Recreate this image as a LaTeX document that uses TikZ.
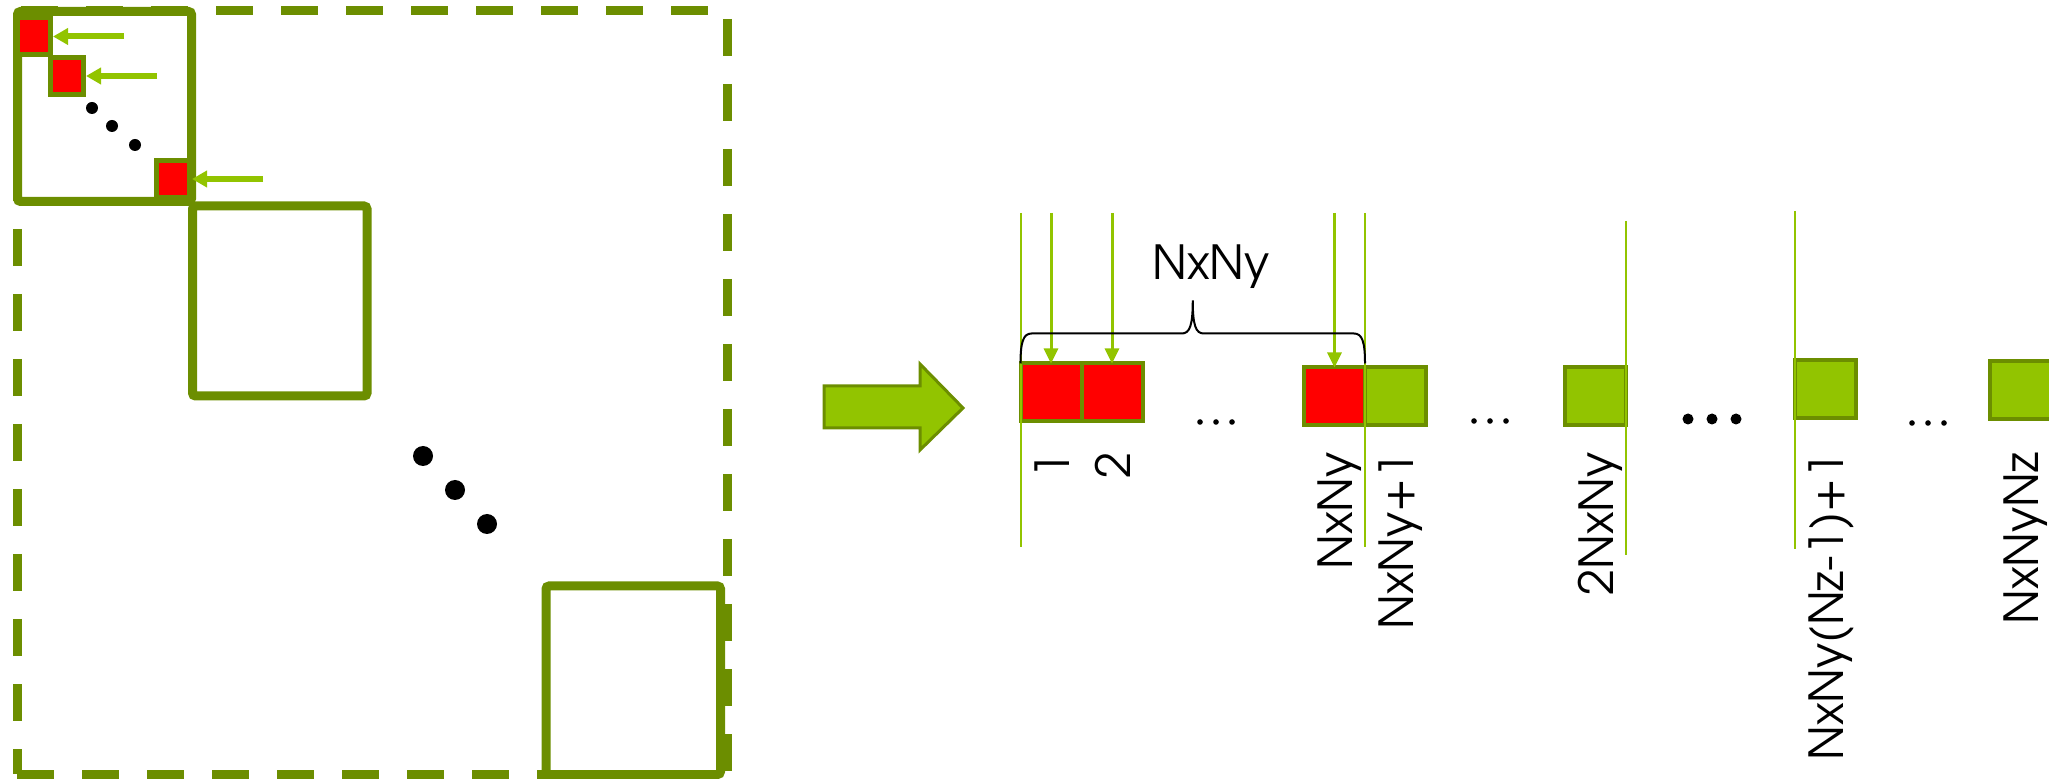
\documentclass[tikz,border=0pt]{standalone}
\usepackage{fontspec}
\setmainfont{TeX Gyre Adventor}
\usetikzlibrary{arrows.meta, positioning, calc}
\definecolor{olivegreen}{RGB}{108,142,0}
\definecolor{limegreen}{RGB}{146,196,0}
\definecolor{cellred}{RGB}{255,0,0}

\begin{document}
\begin{tikzpicture}[x=0.5pt, y=-0.5pt,
    block/.style={draw=olivegreen, line width=4.5pt, rounded corners=1.5pt},
    outline/.style={draw=olivegreen, line width=4.5pt, dash pattern=on 18.5pt off 14pt},
    minicell/.style={draw=olivegreen, fill=cellred, line width=2.5pt,
      minimum width=16.5pt, minimum height=18.5pt, inner sep=0pt},
    hpointer/.style={draw=limegreen, line width=3pt, -{Triangle[length=7.5pt, width=8pt]}},
    cell/.style={draw=olivegreen, line width=2pt, minimum width=30.5pt,
      minimum height=29pt, inner sep=0pt, outer sep=0pt},
    redcell/.style={cell, fill=cellred},
    greencell/.style={cell, fill=limegreen},
    vpointer/.style={draw=limegreen, line width=1.5pt, -{Triangle[length=7.5pt, width=7pt]}},
    boundary/.style={draw=limegreen, line width=1pt},
    brace/.style={draw=black, line width=1pt},
    idx/.style={rotate=90, anchor=base east, inner sep=0pt, font=\fontsize{23.5}{25}\selectfont},
  ]
  \useasboundingbox (0,0) rectangle (2049,779);

  % outline of the whole matrix
  \draw[outline, dash phase=30.5pt] (17,10.5) -- (727.5,10.5);
  \draw[outline, dash phase=28.25pt] (727.5,10.5) -- (727.5,774);
  \draw[outline, dash phase=20.75pt] (17,10.5) -- (17,774);
  \draw[outline] (17,774) -- (727.5,774);

  % diagonal blocks
  \draw[block] (17.5,11.5) rectangle (191.5,201.5);
  \draw[block] (192.5,206) rectangle (367,396);
  \draw[block] (546,586) rectangle (720.5,774.5);

  % entries of the first block
  \node[minicell] (m1) at (34,36.5) {};
  \node[minicell] (m2) at (67,76) {};
  \node[minicell] (m3) at (173,179) {};
  \coordinate (p1) at (124,36.5);
  \coordinate (p2) at (157,76);
  \coordinate (p3) at (263,179);
  \foreach \i in {1,2,3}
    \draw[hpointer] (p\i) -- (m\i);
  \foreach \x/\y in {92/108, 112/126, 135/145}
    \fill (\x,\y) circle[radius=6];
  \foreach \x/\y in {423/456, 455/490, 487/524}
    \fill (\x,\y) circle[radius=10];

  % big arrow
  \draw[draw=olivegreen, fill=limegreen, line width=1.5pt]
    (824,386) -- (920,386) -- (920,364) -- (963,408) -- (920,450) -- (920,428) -- (824,428) -- cycle;

  % vector of cells
  \node[redcell] (r1) at (1051,392.5) {};
  \node[redcell, right=0pt of r1] (r2) {};
  \node[redcell] (rn) at (1334.5,396.5) {};
  \node[greencell, right=0pt of rn] (g1) {};
  \node[greencell] (g2) at (1595.5,396) {};
  \node[greencell] (g3) at (1825.5,389.5) {};
  \node[greencell] (g4) at (2020.5,390.5) {};

  \foreach \x in {1200,1216,1232} \fill (\x,422) circle[radius=2.8];
  \foreach \x in {1474,1490,1506} \fill (\x,421) circle[radius=2.8];
  \foreach \x in {1688,1712,1736} \fill (\x,419) circle[radius=5.5];
  \foreach \x in {1912,1928,1944} \fill (\x,423) circle[radius=2.8];

  % block boundaries
  \coordinate (ltop) at (0,213);
  \coordinate (lbot) at (0,547);
  \coordinate (mtop) at (0,221);
  \coordinate (mbot) at (0,555);
  \coordinate (ntop) at (0,211);
  \coordinate (nbot) at (0,549);
  \draw[boundary] (r1.west |- ltop) -- (r1.west |- lbot);
  \draw[boundary] (rn.east |- ltop) -- (rn.east |- lbot);
  \draw[boundary] (g2.east |- mtop) -- (g2.east |- mbot);
  \draw[boundary] (g3.west |- ntop) -- (g3.west |- nbot);

  % pointers into the first NxNy cells
  \foreach \c in {r1,r2,rn}{
    \coordinate (s-\c) at (\c.north |- ltop);
    \draw[vpointer] (s-\c) -- (\c);
  }

  % brace over the first plane
  \coordinate (bl) at (r1.north west);
  \coordinate (br) at (rn.north east |- bl);
  \coordinate (bm) at ($(bl)!0.5!(br)$);
  \draw[brace] (bl) .. controls ($(bl)+(0,-22)$) and ($(bl)+(3,-30)$) .. ($(bl)+(11,-30)$)
    -- ($(bm)+(-11,-30)$) .. controls ($(bm)+(-3,-30)$) and ($(bm)+(0,-38)$) .. ($(bm)+(0,-63)$)
    .. controls ($(bm)+(0,-38)$) and ($(bm)+(3,-30)$) .. ($(bm)+(11,-30)$)
    -- ($(br)+(-11,-30)$) .. controls ($(br)+(-3,-30)$) and ($(br)+(0,-22)$) .. (br);
  \node[anchor=base, inner sep=0pt, font=\fontsize{23.5}{25}\selectfont] (span) at (1211,280) {NxNy};

  % indices
  \coordinate (lblrow) at (0,452);
  \foreach \c/\t in {r1/1, r2/2, rn/NxNy, g1/NxNy+1, g2/2NxNy, g3/NxNy(Nz-1)+1, g4/NxNyNz}
    \node[idx] (l-\c) at ($(\c |- lblrow)+(18,0)$) {\t};
\end{tikzpicture}
\end{document}
